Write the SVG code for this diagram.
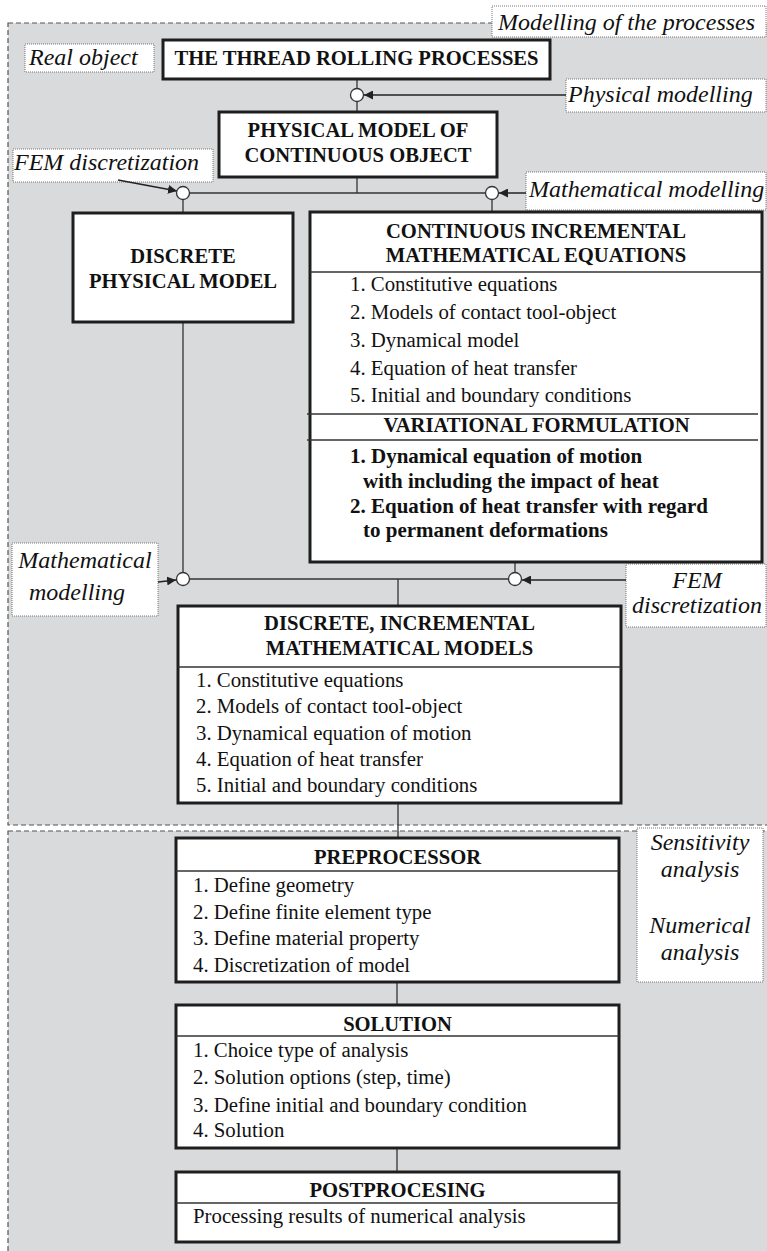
<svg xmlns="http://www.w3.org/2000/svg" width="767" height="1251" viewBox="0 0 767 1251">
<defs>
<style>
.region{fill:#d9dadc;stroke:#555;stroke-width:1.2;stroke-dasharray:5 3}
.lblbox{fill:#fff;stroke:#777;stroke-width:1;stroke-dasharray:1 1}
.box{fill:#fff;stroke:#1e1e1e;stroke-width:3}
.div{stroke:#333;stroke-width:1.5;fill:none}
.con{stroke:#333;stroke-width:1.3;fill:none}
.arr{stroke:#222;stroke-width:1.5;fill:none;marker-end:url(#ah)}
.node{fill:#fff;stroke:#333;stroke-width:1.3}
.title{font-family:"Liberation Serif","Times New Roman",serif;font-weight:bold;font-size:20.6px;text-anchor:middle;fill:#111}
.item{font-family:"Liberation Serif","Times New Roman",serif;font-size:20.8px;fill:#111}
.bitem{font-family:"Liberation Serif","Times New Roman",serif;font-size:21px;font-weight:bold;fill:#111}
.lbl{font-family:"Liberation Serif","Times New Roman",serif;font-style:italic;font-size:24px;fill:#111}
.mid{text-anchor:middle}
</style>
<marker id="ah" viewBox="0 0 10 10" refX="10" refY="5" markerWidth="9" markerHeight="9" markerUnits="userSpaceOnUse" orient="auto">
<path d="M0,0 L10,5 L0,10 z" fill="#222"/>
</marker>
</defs>

<g id="regions">
<rect class="region" x="8" y="23" width="800" height="802"/>
<rect class="region" x="8" y="831" width="800" height="450"/>
</g>

<g id="labels">
<g id="lbl-modelling"><rect class="lblbox" x="492" y="6" width="274" height="31"/><text class="lbl" x="498" y="30">Modelling of the processes</text></g>
<g id="lbl-real"><rect class="lblbox" x="25" y="44" width="129" height="28"/><text class="lbl" x="29" y="65">Real object</text></g>
<g id="lbl-physical"><rect class="lblbox" x="566" y="79" width="200" height="33"/><text class="lbl" x="568" y="102">Physical modelling</text></g>
<g id="lbl-fem1"><rect class="lblbox" x="13" y="149" width="200" height="33"/><text class="lbl" x="14" y="170">FEM discretization</text></g>
<g id="lbl-math1"><rect class="lblbox" x="526" y="172" width="240" height="38"/><text class="lbl" x="529" y="197">Mathematical modelling</text></g>
<g id="lbl-math2"><rect class="lblbox" x="12" y="543" width="146" height="73"/><text class="lbl mid" x="85" y="568">Mathematical</text><text class="lbl mid" x="77" y="600">modelling</text></g>
<g id="lbl-fem2"><rect class="lblbox" x="626" y="564" width="140" height="63"/><text class="lbl mid" x="697" y="588">FEM</text><text class="lbl mid" x="697" y="613">discretization</text></g>
<g id="lbl-analysis"><rect class="lblbox" x="637" y="828" width="126" height="154"/><text class="lbl mid" x="700" y="850">Sensitivity</text><text class="lbl mid" x="700" y="877">analysis</text><text class="lbl mid" x="700" y="933">Numerical</text><text class="lbl mid" x="700" y="960">analysis</text></g>
</g>

<g id="connectors">
<line class="con" x1="357" y1="79" x2="357" y2="112"/>
<line class="con" x1="357" y1="177" x2="357" y2="193"/>
<line class="con" x1="183" y1="193" x2="492" y2="193"/>
<line class="con" x1="183" y1="193" x2="183" y2="213"/>
<line class="con" x1="492" y1="193" x2="492" y2="212"/>
<line class="con" x1="183" y1="322" x2="183" y2="579"/>
<line class="con" x1="515" y1="562" x2="515" y2="579"/>
<line class="con" x1="183" y1="579" x2="515" y2="579"/>
<line class="con" x1="398" y1="579" x2="398" y2="606"/>
<line class="con" x1="398" y1="803" x2="398" y2="838"/>
<line class="con" x1="397" y1="982" x2="397" y2="1005"/>
<line class="con" x1="397" y1="1148" x2="397" y2="1172"/>
<line class="arr" x1="566" y1="95" x2="364" y2="95"/>
<line class="arr" x1="118" y1="180" x2="177" y2="191"/>
<line class="arr" x1="526" y1="193" x2="499" y2="193"/>
<line class="arr" x1="158" y1="582" x2="176" y2="580"/>
<line class="arr" x1="626" y1="580" x2="522" y2="580"/>
<circle class="node" cx="357" cy="95" r="6.5"/>
<circle class="node" cx="183" cy="193" r="6.5"/>
<circle class="node" cx="492" cy="193" r="6.5"/>
<circle class="node" cx="183" cy="579" r="6.5"/>
<circle class="node" cx="515" cy="579" r="6.5"/>
</g>

<g id="thread-rolling">
<rect class="box" x="163" y="40" width="387" height="39"/>
<text class="title" x="356.5" y="65">THE THREAD ROLLING PROCESSES</text>
</g>

<g id="physical-model">
<rect class="box" x="219" y="112" width="278" height="65"/>
<text class="title" x="358" y="137">PHYSICAL MODEL OF</text>
<text class="title" x="358" y="162">CONTINUOUS OBJECT</text>
</g>

<g id="discrete-physical">
<rect class="box" x="73" y="213" width="220" height="109"/>
<text class="title" x="183" y="263">DISCRETE</text>
<text class="title" x="183" y="288">PHYSICAL MODEL</text>
</g>

<g id="continuous-equations">
<rect class="box" x="310" y="212" width="452" height="350"/>
<text class="title" x="536" y="238">CONTINUOUS INCREMENTAL</text>
<text class="title" x="536" y="262">MATHEMATICAL EQUATIONS</text>
<line class="div" x1="310" y1="272" x2="762" y2="272"/>
<text class="item" x="350" y="291">1. Constitutive equations</text>
<text class="item" x="350" y="319">2. Models of contact tool-object</text>
<text class="item" x="350" y="347">3. Dynamical model</text>
<text class="item" x="350" y="375">4. Equation of heat transfer</text>
<text class="item" x="350" y="402">5. Initial and boundary conditions</text>
<line class="div" x1="307" y1="414" x2="758" y2="414"/>
<text class="title" x="536.5" y="432">VARIATIONAL FORMULATION</text>
<line class="div" x1="307" y1="440" x2="758" y2="440"/>
<text class="bitem" x="350" y="463">1. Dynamical equation of motion</text>
<text class="bitem" x="363" y="488">with including the impact of heat</text>
<text class="bitem" x="350" y="513">2. Equation of heat transfer with regard</text>
<text class="bitem" x="363" y="537">to permanent deformations</text>
</g>

<g id="discrete-incremental">
<rect class="box" x="178" y="606" width="443" height="197"/>
<text class="title" x="399.5" y="630">DISCRETE, INCREMENTAL</text>
<text class="title" x="399.5" y="655">MATHEMATICAL MODELS</text>
<line class="div" x1="178" y1="667" x2="621" y2="667"/>
<text class="item" x="196" y="687">1. Constitutive equations</text>
<text class="item" x="196" y="713">2. Models of contact tool-object</text>
<text class="item" x="196" y="740">3. Dynamical equation of motion</text>
<text class="item" x="196" y="766">4. Equation of heat transfer</text>
<text class="item" x="196" y="792">5. Initial and boundary conditions</text>
</g>

<g id="preprocessor">
<rect class="box" x="176" y="838" width="443" height="144"/>
<text class="title" x="397.5" y="864">PREPROCESSOR</text>
<line class="div" x1="176" y1="871" x2="619" y2="871"/>
<text class="item" x="193" y="892">1. Define geometry</text>
<text class="item" x="193" y="919">2. Define finite element type</text>
<text class="item" x="193" y="945">3. Define material property</text>
<text class="item" x="193" y="972">4. Discretization of model</text>
</g>

<g id="solution">
<rect class="box" x="176" y="1005" width="443" height="143"/>
<text class="title" x="397.5" y="1031">SOLUTION</text>
<line class="div" x1="176" y1="1036" x2="619" y2="1036"/>
<text class="item" x="193" y="1057">1. Choice type of analysis</text>
<text class="item" x="193" y="1084">2. Solution options (step, time)</text>
<text class="item" x="193" y="1112">3. Define initial and boundary condition</text>
<text class="item" x="193" y="1137">4. Solution</text>
</g>

<g id="postprocessing">
<rect class="box" x="176" y="1172" width="443" height="70"/>
<text class="title" x="397.5" y="1197">POSTPROCESING</text>
<line class="div" x1="176" y1="1203" x2="619" y2="1203"/>
<text class="item" x="193" y="1223">Processing results of numerical analysis</text>
</g>
</svg>
